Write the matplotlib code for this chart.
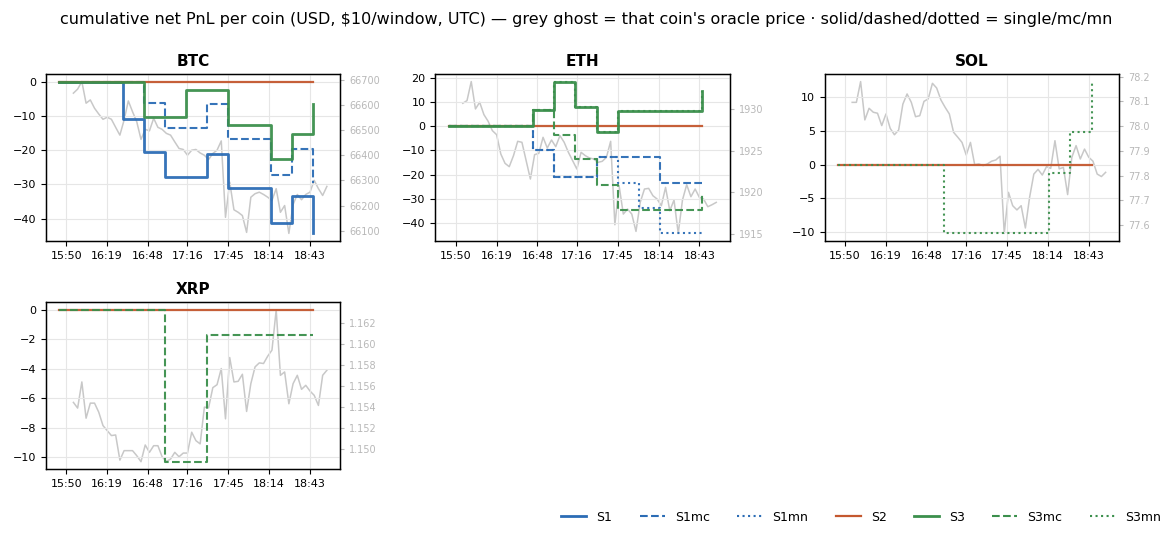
import pandas as pd
import matplotlib
matplotlib.use("Agg")
import matplotlib.pyplot as plt
import matplotlib.dates as mdates
from matplotlib.lines import Line2D

day = "2024-01-01 "
windows = pd.date_range(day + "15:45", day + "18:45", freq="15min")
price_times = pd.date_range(day + "15:55", periods=61, freq="3min")
tick_labels = ["15:50", "16:19", "16:48", "17:16", "17:45", "18:14", "18:43"]

coins = ["BTC", "ETH", "SOL", "XRP"]
series_names = ["S1", "S1mc", "S1mn", "S2", "S3", "S3mc", "S3mn"]

# cumulative pnl per 15-min window (None = series not drawn for that coin)
btc_S1 = [0, 0, 0, -10.8, -20.5, -27.8, -27.8, -21.0, -31.1, -31.1, -41.3, -33.5, -44.3]
btc_S1mc = [0, 0, 0, 0, -6.3, -13.5, -13.5, -6.5, -16.8, -16.8, -27.2, -19.6, -29.5]
btc_S2 = [0] * 13
btc_S3 = [0, 0, 0, 0, -10.4, -10.4, -2.4, -2.4, -12.6, -12.6, -22.6, -15.2, -6.5]

eth_S1mc = [0, 0, 0, 0, -9.8, -20.8, -20.8, -12.6, -12.6, -12.6, -23.3, -23.3, -23.3]
eth_S1mn = [0, 0, 0, 0, -9.8, -20.8, -20.8, -12.6, -23.3, -33.9, -44.3, -44.3, -44.3]
eth_S2 = [0] * 13
eth_S3 = [0, 0, 0, 0, 6.8, 18.5, 8.1, -2.2, 6.3, 6.3, 6.3, 6.3, 14.5]
eth_S3mc = [0, 0, 0, 0, 6.8, -3.4, -13.7, -24.1, -34.5, -34.5, -34.5, -34.5, -28.0]
eth_S3mn = [0, 0, 0, 0, 6.8, 18.5, 8.1, -2.2, 6.3, 6.3, 6.3, 6.3, 14.5]

sol_S2 = [0] * 13
sol_S3mn = [0, 0, 0, 0, 0, -10.2, -10.2, -10.2, -10.2, -10.2, -1.3, 4.9, 12.3]

xrp_S2 = [0] * 13
xrp_S3mc = [0, 0, 0, 0, 0, -10.3, -10.3, -1.7, -1.7, -1.7, -1.7, -1.7, -1.7]

# oracle price, every 3 min
btc_price = [66647, 66663, 66693, 66607, 66620, 66587, 66564, 66543, 66551, 66543,
             66511, 66480, 66540, 66616, 66573, 66533, 66463, 66503, 66497, 66547,
             66511, 66503, 66487, 66480, 66453, 66427, 66423, 66400, 66420, 66423,
             66409, 66400, 66383, 66407, 66420, 66457, 66153, 66293, 66183, 66173,
             66160, 66093, 66233, 66247, 66253, 66244, 66233, 66220, 66267, 66173,
             66200, 66089, 66204, 66244, 66223, 66244, 66253, 66300, 66267, 66240,
             66276]
eth_price = [1930.68, 1931.0, 1933.28, 1930.0, 1930.8, 1929.32, 1928.52, 1927.4, 1926.92, 1924.6,
             1923.48, 1923.08, 1924.4, 1926.12, 1926.0, 1923.8, 1921.6, 1924.52, 1924.68, 1926.6,
             1925.32, 1926.28, 1925.48, 1926.8, 1926.0, 1924.8, 1923.8, 1922.8, 1924.8, 1924.4,
             1924.12, 1924.0, 1923.6, 1923.72, 1924.2, 1926.12, 1916.12, 1920.8, 1917.4, 1918.0,
             1917.4, 1915.32, 1918.8, 1920.4, 1920.48, 1919.6, 1919.2, 1918.4, 1920.6, 1917.8,
             1919.08, 1915.08, 1919.08, 1920.92, 1919.48, 1920.4, 1919.4, 1919.2, 1918.28, 1918.52,
             1918.8]
sol_price = [78.096, 78.096, 78.180, 78.025, 78.072, 78.056, 78.052, 78.002, 78.049, 77.991,
             77.965, 77.984, 78.089, 78.130, 78.096, 78.038, 78.042, 78.100, 78.110, 78.173,
             78.154, 78.106, 78.076, 78.049, 77.975, 77.955, 77.934, 77.883, 77.934, 77.844,
             77.847, 77.840, 77.847, 77.858, 77.863, 77.878, 77.566, 77.732, 77.678, 77.661,
             77.678, 77.588, 77.712, 77.806, 77.825, 77.802, 77.836, 77.829, 77.941, 77.827,
             77.833, 77.723, 77.874, 77.921, 77.867, 77.907, 77.874, 77.858, 77.806, 77.796,
             77.813]
xrp_price = [1.15443, 1.15389, 1.15637, 1.15293, 1.15436, 1.15436, 1.15350, 1.15223, 1.15175, 1.15128,
             1.15134, 1.14895, 1.14985, 1.14985, 1.14985, 1.14937, 1.14880, 1.15039, 1.14969, 1.15032,
             1.15032, 1.14927, 1.14883, 1.14905, 1.14969, 1.14927, 1.14962, 1.14962, 1.15160, 1.15080,
             1.15049, 1.15398, 1.15392, 1.15583, 1.15611, 1.15764, 1.15287, 1.15869, 1.15637, 1.15643,
             1.15710, 1.15357, 1.15621, 1.15780, 1.15818, 1.15812, 1.15882, 1.15939, 1.16321, 1.15700,
             1.15732, 1.15430, 1.15621, 1.15700, 1.15567, 1.15605, 1.15551, 1.15510, 1.15414, 1.15700,
             1.15748]

pnl = {
    "BTC": [btc_S1, btc_S1mc, None, btc_S2, btc_S3, None, None],
    "ETH": [None, eth_S1mc, eth_S1mn, eth_S2, eth_S3, eth_S3mc, eth_S3mn],
    "SOL": [None, None, None, sol_S2, None, None, sol_S3mn],
    "XRP": [None, None, None, xrp_S2, None, xrp_S3mc, None],
}
prices = {"BTC": btc_price, "ETH": eth_price, "SOL": sol_price, "XRP": xrp_price}

blue = "#2b6cb5"
red = "#c4582f"
green = "#3b8f4c"
styles = [
    (blue, "-", 2.0), (blue, "--", 1.5), (blue, ":", 1.5),
    (red, "-", 1.6),
    (green, "-", 2.0), (green, "--", 1.5), (green, ":", 1.5),
]

fig, axes = plt.subplots(2, 3, figsize=(11.72, 5.35), dpi=100)
fig.subplots_adjust(left=0.0392, right=0.9548, top=0.8617, bottom=0.1228,
                    wspace=0.323, hspace=0.367)
axes = axes.flatten()

ticks = [pd.Timestamp(day + t) for t in tick_labels]

for i, coin in enumerate(coins):
    ax = axes[i]
    ax2 = ax.twinx()
    ax2.plot(price_times, prices[coin], color="#c8c8c8", lw=1.1)
    ax2.tick_params(axis="y", labelsize=7, colors="#b8b8b8", length=3)
    ax.set_zorder(ax2.get_zorder() + 1)
    ax.patch.set_visible(False)

    for vals, (c, ls, lw) in zip(pnl[coin], styles):
        if vals is None:
            continue
        ax.plot(windows, vals, color=c, ls=ls, lw=lw, drawstyle="steps-post", alpha=0.95)

    ax.set_title(coin, fontsize=11, fontweight="bold")
    ax.grid(True, color="#e6e6e6", lw=0.8)
    ax.set_xticks(ticks)
    ax.xaxis.set_major_formatter(mdates.DateFormatter("%H:%M"))
    ax.tick_params(axis="both", labelsize=8, length=3.5)
    for s in ax.spines.values():
        s.set_linewidth(1.0)

axes[4].axis("off")
axes[5].axis("off")

handles = [Line2D([0], [0], color=c, ls=ls, lw=lw) for c, ls, lw in styles]
fig.legend(handles, series_names, loc="lower right", bbox_to_anchor=(1.0, 0.0),
           ncol=7, frameon=False, fontsize=9, columnspacing=2.2)

fig.suptitle("cumulative net PnL per coin (USD, $10/window, UTC) \u2014 grey ghost = that coin's "
             "oracle price \u00b7 solid/dashed/dotted = single/mc/mn", fontsize=11.5, y=0.978)

fig.savefig("out.png", dpi=100)
